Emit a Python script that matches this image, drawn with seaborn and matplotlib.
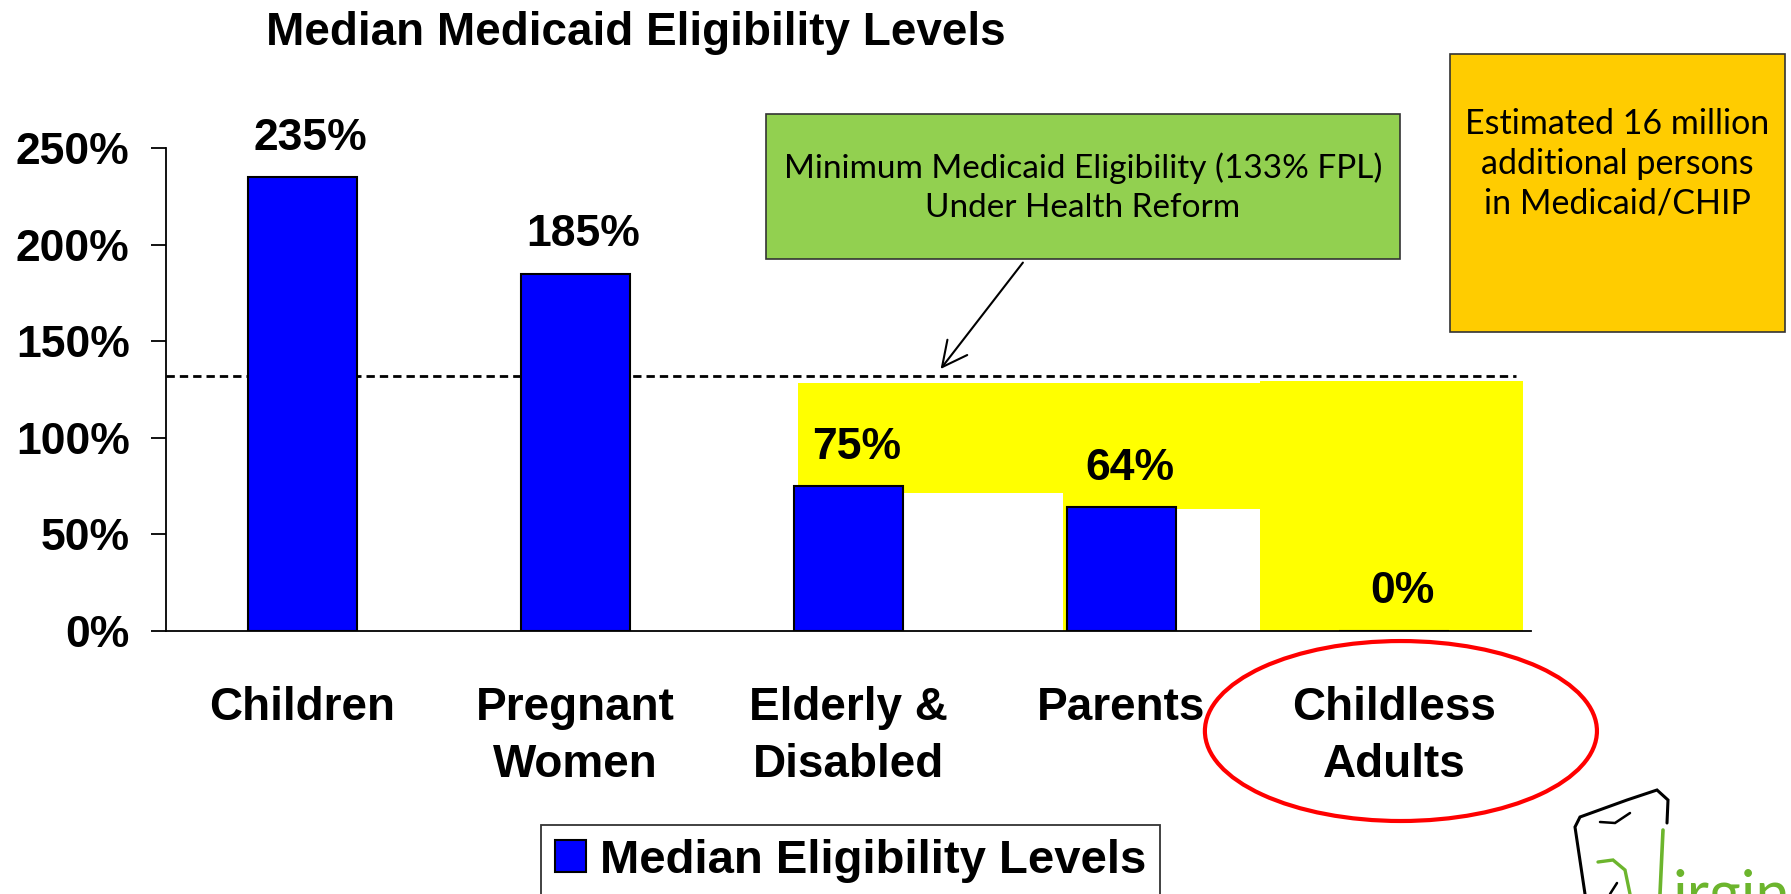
import numpy as np
import pandas as pd
import matplotlib
matplotlib.use('Agg')
import matplotlib.pyplot as plt
import matplotlib.patches as mpatches
from matplotlib.path import Path
import seaborn as sns

# chart data
categories = ['Children', 'Pregnant\nWomen', 'Elderly &\nDisabled', 'Parents', 'Childless\nAdults']
levels = [235, 185, 75, 64, 0]
reform_min = 132  # drawn line for the 133% FPL minimum
reform_line_end = 4.445

# yellow shaded area (category units) and the white gaps cut into it
shade_left = [1.815, 3.509]
shade_right = [3.509, 4.473]
shade_top = [128.2, 129.4]
gap_left = [2.2, 3.2]
gap_right = [2.787, 3.509]
gap_top = [71.2, 62.9]

yticks = [0, 50, 100, 150, 200, 250]
ytick_labels = [f'{v}%' for v in yticks]

title = 'Median Medicaid Eligibility Levels'
legend_label = 'Median Eligibility Levels'
reform_note = 'Minimum Medicaid Eligibility (133% FPL)\nUnder Health Reform'
chip_note = 'Estimated 16 million\nadditional persons\nin Medicaid/CHIP'

sns.set_style('white')
plt.rcParams['font.family'] = ['Liberation Sans', 'DejaVu Sans']
plt.rcParams['text.color'] = 'black'
plt.rcParams['xtick.color'] = 'black'
plt.rcParams['ytick.color'] = 'black'
plt.rcParams['axes.labelcolor'] = 'black'

W, H = 1791, 894
fig = plt.figure(figsize=(W / 100, H / 100), dpi=100)
ax = fig.add_axes([0.0925, 0.2947, 0.7621, 0.5393])

df = pd.DataFrame({'group': categories, 'level': levels})

# background shapes
for l, r, t in zip(shade_left, shade_right, shade_top):
    ax.add_patch(mpatches.Rectangle((l, 0), r - l, t, facecolor='#FFFF00', edgecolor='none', zorder=1))
for l, r, t in zip(gap_left, gap_right, gap_top):
    ax.add_patch(mpatches.Rectangle((l, 0), r - l, t, facecolor='white', edgecolor='none', zorder=1.5))

sns.barplot(data=df, x='group', y='level', color='#0000FF', saturation=1, width=0.4,
            edgecolor='black', linewidth=1.5, ax=ax, zorder=3)

ax.hlines(reform_min, -0.5, reform_line_end, colors='black', linestyles=(0, (3, 1.8)), lw=2, zorder=2.5)

for i, v in enumerate(levels):
    ax.annotate(f'{v}%', xy=(i, v), xytext=(6, 28), textcoords='offset points',
                ha='center', va='center', fontsize=32, fontweight='bold', zorder=4)

ax.set_xlim(-0.5, 4.5)
ax.set_ylim(0, 250)
ax.set_xlabel('')
ax.set_ylabel('')
ax.set_yticks(yticks)
ax.set_yticklabels(ytick_labels, fontsize=32, fontweight='bold')
ax.set_xticks(range(len(categories)))
ax.set_xticklabels(categories, fontsize=33, fontweight='bold', linespacing=1.38)
ax.set_xticks(np.arange(-0.5, len(categories), 1), minor=True)
ax.tick_params(axis='x', which='major', length=0, pad=40)
ax.tick_params(axis='x', which='minor', length=11, width=1.3, direction='out', color='black')
ax.tick_params(axis='y', length=11, width=1.3, direction='out', color='black', pad=15, left=True)
for s in ['top', 'right']:
    ax.spines[s].set_visible(False)
for s in ['left', 'bottom']:
    ax.spines[s].set_color('black')
    ax.spines[s].set_linewidth(1.3)

fig.text(0.355, 0.963, title, ha='center', va='center', fontsize=33, fontweight='bold')

# legend
handle = mpatches.Patch(facecolor='#0000FF', edgecolor='black', linewidth=1.5)
leg = fig.legend([handle], [legend_label], loc='upper left', bbox_to_anchor=(541 / W, 1 - 824.7 / H),
                 prop={'size': 34, 'weight': 'bold'}, frameon=True, fancybox=False, edgecolor='black',
                 borderpad=0.3, handlelength=0.66, handleheight=0.66, handletextpad=0.28, borderaxespad=0)
leg.get_frame().set_linewidth(1.3)

box_font = ['Lato', 'DejaVu Sans']

# green note with arrow
fig.patches.append(mpatches.Rectangle((766 / W, 1 - 259 / H), 634 / W, 145 / H, transform=fig.transFigure,
                                      facecolor='#92D050', edgecolor='#333333', linewidth=1.2, zorder=5))
fig.text(1083 / W, 1 - 188 / H, reform_note, ha='center', va='center', fontsize=24, family=box_font,
         linespacing=1.37, zorder=6)
fig.add_artist(mpatches.FancyArrowPatch((1024.6 / W, 1 - 260.4 / H), (938.9 / W, 1 - 371.2 / H),
                                        transform=fig.transFigure, arrowstyle='->,head_length=0.9,head_width=0.45',
                                        mutation_scale=20, color='black', lw=1.5))

# orange note
fig.patches.append(mpatches.Rectangle((1449.5 / W, 1 - 332.4 / H), 335.5 / W, 278.7 / H, transform=fig.transFigure,
                                      facecolor='#FFCC00', edgecolor='#333333', linewidth=1.2, zorder=5))
fig.text(1617 / W, 1 - 164 / H, chip_note, ha='center', va='center', fontsize=24.5, family=box_font,
         linespacing=1.3, zorder=6)

# red circle around childless adults
fig.add_artist(mpatches.Ellipse((0.7822, 0.1823), 0.2189, 0.2013, transform=fig.transFigure,
                                facecolor='none', edgecolor='#FF0000', linewidth=3))

# logo corner
def fig_path(pts, color, lw):
    verts = [(x / W, 1 - y / H) for x, y in pts]
    fig.add_artist(mpatches.PathPatch(Path(verts), transform=fig.transFigure, facecolor='none',
                                      edgecolor=color, linewidth=lw, capstyle='round'))

fig_path([(1585, 894), (1575, 827), (1580, 817), (1627, 800), (1657, 790), (1668, 800), (1667, 823)], 'black', 2.2)
fig_path([(1600, 822), (1615, 823), (1630, 813)], 'black', 1.8)
fig_path([(1617, 883), (1610, 894)], 'black', 1.8)
fig_path([(1663, 830), (1660, 894)], '#6CB52D', 2.6)
fig_path([(1598, 862), (1613, 860), (1625, 870), (1630, 894)], '#6CB52D', 2.4)
fig.text(1672 / W, -21 / H, 'irginia', ha='left', va='baseline', fontsize=44, color='#6CB52D', family=box_font)

fig.savefig('out.png', dpi=100)
